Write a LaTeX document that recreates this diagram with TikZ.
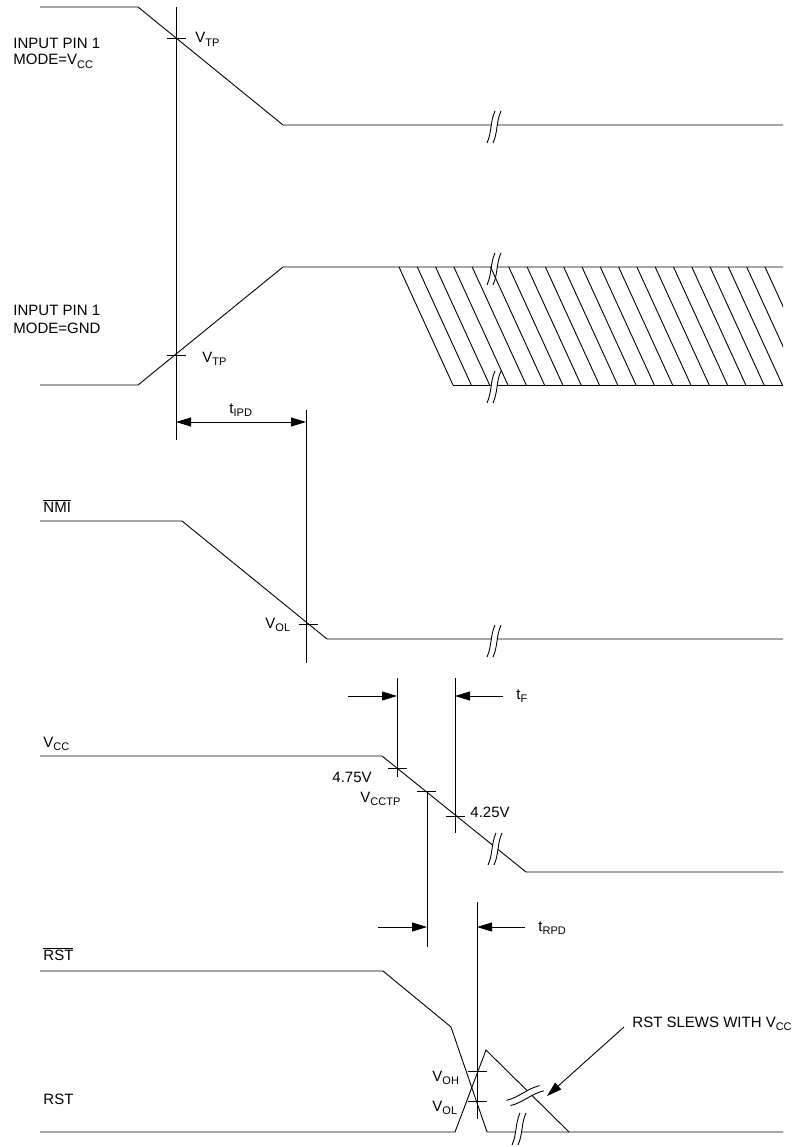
\documentclass[tikz,border=0pt]{standalone}
\usepackage{fontspec}
\setmainfont{Liberation Sans}
\usetikzlibrary{arrows.meta}

\newcommand{\sbs}[1]{\raisebox{-3.5pt}{\fontsize{11}{11}\selectfont #1}}
\newcommand{\ovl}[1]{$\overline{\mbox{#1}}$}

\tikzset{
  brk/.pic={
    \fill[white] (-4,16) .. controls (1,5) and (-1,-5) .. (4,-16) -- (10,-16)
      .. controls (5,-5) and (7,5) .. (2,16) -- cycle;
    \draw (-4,16) .. controls (1,5) and (-1,-5) .. (4,-16)
          (2,16) .. controls (7,5) and (5,-5) .. (10,-16);
  }
}

\begin{document}
\begin{tikzpicture}[x=1pt, y=-1pt, line width=0.9pt,
  every node/.style={font=\fontsize{15}{16}\selectfont, inner sep=0pt, anchor=base west},
  dim/.style={-{Triangle[length=15pt,width=9pt]}},
  dimboth/.style={{Triangle[length=15pt,width=9pt]}-{Triangle[length=15pt,width=9pt]}}]
  \useasboundingbox (0,0) rectangle (809,1147);

  % waveforms
  \draw (40,7) -- (138,7) -- (283,125) -- (783,125);
  \draw (40,385) -- (138,385) -- (283,267) -- (783,267);
  \draw (453,385) -- (783,385);
  \draw (40,521) -- (182,521) -- (327,639) -- (783,639);
  \draw (40,756) -- (382,756) -- (526,872) -- (783,872);
  \draw (40,971) -- (383,971) -- (451,1027) -- (487,1132) -- (783,1132);
  \draw (40,1132) -- (455,1132) -- (486,1050) -- (569,1132);

  % breaks
  \foreach \p in {(491,127),(491,269),(491,387),(491,641),(492,849),(516,1129)}
    \pic at \p {brk};
  \pic[rotate=-52, scale=1.1] at (523,1093) {brk};

  % hatched region
  \begin{scope}
    \clip (283,260) rectangle (783,390);
    \foreach \k in {0,...,20}
      \draw (399+18.3*\k,267) -- (453+18.3*\k,385);
  \end{scope}

  % reference lines
  \coordinate (a1) at (176,7);    \coordinate (a2) at (176,440);
  \coordinate (b1) at (306,410);  \coordinate (b2) at (306,663);
  \coordinate (c1) at (397,678);  \coordinate (c2) at (397,777);
  \coordinate (d1) at (455,678);  \coordinate (d2) at (455,833);
  \coordinate (e1) at (427,791);  \coordinate (e2) at (427,947);
  \coordinate (f1) at (477,902);  \coordinate (f2) at (477,1119);
  \foreach \u/\v in {a1/a2,b1/b2,c1/c2,d1/d2,e1/e2,f1/f2}
    \draw (\u) -- (\v);

  % ticks
  \foreach \x/\y in {176/38,176/355,308/624,397/768,426/791,455/816,477/1071,477/1101}
    \draw (\x-9.5,\y) -- (\x+9.5,\y);

  % labels
  \node (in1a) at (13,49) {INPUT PIN 1};
  \node (in1b) at (13,65) {MODE=V\sbs{CC}};
  \node (vtpA) at (195,43) {V\sbs{TP}};
  \node (in2a) at (13,316) {INPUT PIN 1};
  \node (in2b) at (13,333) {MODE=GND};
  \node (vtpB) at (202,362) {V\sbs{TP}};
  \node (tipd) at (229,413) {t\sbs{IPD}};
  \node (nmi) at (43,512) {\ovl{NMI}};
  \node (volA) at (265,628) {V\sbs{OL}};
  \node (vcc) at (43,747) {V\sbs{CC}};
  \node (tf) at (516,699) {t\sbs{F}};
  \node (v475) at (332,782) {4.75V};
  \node (vcctp) at (360,802) {V\sbs{CCTP}};
  \node (v425) at (470,817) {4.25V};
  \node (trpd) at (538,931) {t\sbs{RPD}};
  \node (rstb) at (43,960) {\ovl{RST}};
  \node (rst) at (43,1104) {RST};
  \node (voh) at (432,1081) {V\sbs{OH}};
  \node (volB) at (432,1111) {V\sbs{OL}};
  \node (slew) at (632,1027) {RST SLEWS WITH V\sbs{CC}};

  % timing arrows
  \coordinate (ipd) at (176,422);
  \draw[dimboth] (ipd) -- (ipd -| b1);
  \coordinate (fL) at (348,696);  \coordinate (fR) at (503,696);
  \draw[dim] (fL) -- (fL -| c1);
  \draw[dim] (fR) -- (fR -| d1);
  \coordinate (rL) at (378,927);  \coordinate (rR) at (525,927);
  \draw[dim] (rL) -- (rL -| e1);
  \draw[dim] (rR) -- (rR -| f1);
  \coordinate (slewtip) at (547,1096);
  \draw[dim] ([xshift=-8pt]slew.base west) -- (slewtip);
\end{tikzpicture}
\end{document}
